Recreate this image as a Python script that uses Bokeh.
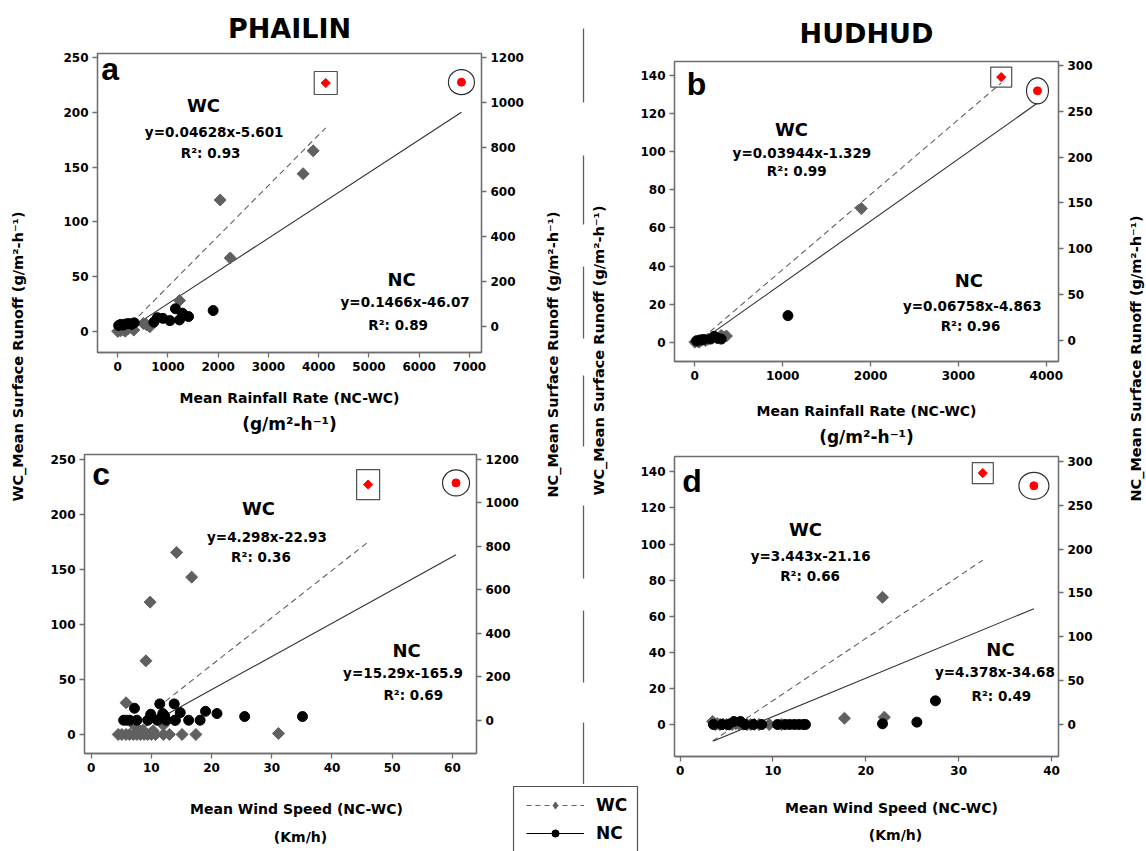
import math
from bokeh.plotting import figure
from bokeh.layouts import row, column
from bokeh.models import Range1d, LinearAxis, FixedTicker, Legend, LegendItem, Title
from bokeh.core.properties import value
from bokeh.embed import file_html
from bokeh.resources import INLINE

W, H = 1146, 851
FONT = "DejaVu Sans"
WC_COLOR = "#606060"
NC_COLOR = "#000000"
PEAK_COLOR = "#ff0000"
AXIS_COLOR = "#6e6e6e"

# ---------------- PHAILIN : mean rainfall rate (a) ----------------
a_wc_x = [0, 30, 60, 90, 120, 150, 200, 320, 510, 570, 640, 1230, 2040, 2240, 3690, 3890]
a_wc_y = [0, 1, 0.5, 2, 1, 0, 2, 1, 7, 6, 4, 28, 120, 67, 144, 165]
a_nc_x = [20, 60, 110, 160, 220, 280, 330, 720, 790, 900, 1040, 1150, 1230, 1290, 1410, 1900]
a_nc_y = [3, 8, 5, 10, 12, 8, 15, 18, 38, 35, 25, 78, 28, 58, 43, 70]
a_wc_peak = (4140, 227)
a_nc_peak = (6840, 1091)
a_wc_fit = (0.04628, -5.601, 0.93)
a_nc_fit = (0.1466, -46.07, 0.89)

# ---------------- HUDHUD : mean rainfall rate (b) ----------------
b_wc_x = [0, 10, 30, 50, 80, 120, 150, 250, 300, 330, 360, 1895]
b_wc_y = [0, 0.3, 0.5, 0, 1, 0.8, 1.5, 2.2, 3.5, 2.5, 3.2, 70.2]
b_nc_x = [20, 60, 100, 180, 220, 260, 300, 1060]
b_nc_y = [0, 1, 1.5, 2, 5, 3, 2, 27.5]
b_wc_peak = (3487, 139.3)
b_nc_peak = (3900, 272)
b_wc_fit = (0.03944, -1.329, 0.99)
b_nc_fit = (0.06758, -4.863, 0.96)

# ---------------- PHAILIN : mean wind speed (c) ----------------
c_wc_x = [5.8, 9.1, 9.8, 14.2, 16.7, 31.1, 12.0, 7.3, 8.6, 10.3,
          4.5, 5.1, 5.8, 6.4, 7.0, 7.6, 8.2, 8.8, 9.4, 10.0, 10.7, 12.0, 13.0, 15.1, 17.4]
c_wc_y = [28.8, 66.9, 120.2, 165.3, 142.9, 0.9, 8.5, 7.6, 3.9, 3.3,
          0, 0, 0, 0, 0, 0, 0, 0, 0, 0, 0, 0, 0, 0, 0]
c_nc_x = [5.4, 5.9, 6.4, 7.6, 9.4, 11.0, 12.5, 13.9, 16.2, 18.1,
          7.2, 9.9, 11.4, 11.9, 13.8, 14.8, 14.0, 19.0, 20.9, 25.5, 35.1, 11.6, 12.2]
c_nc_y = [0, 0, 0, 0, 0, 0, 0, 0, 0, 0,
          55, 27.6, 75, 30.7, 75, 35, 0, 41, 30.7, 16.9, 16.9, 10, 20]
c_wc_peak = (46.0, 227)
c_nc_peak = (60.6, 1091)
c_wc_fit = (4.298, -22.93, 0.36)
c_nc_fit = (15.29, -165.9, 0.69)

# ---------------- HUDHUD : mean wind speed (d) ----------------
d_wc_x = [3.5, 3.8, 4.0, 4.3, 4.6, 5.0, 5.3, 5.6, 6.0, 6.4, 6.8, 7.2, 7.6, 8.0, 8.5,
          9.6, 10.9, 17.7, 21.8, 22.0]
d_wc_y = [1.7, 0, 0.5, 0, 0.3, 0, 0.2, 0, 0.4, 0, 0.2, 0, 0, 0.1, 0,
          0, 0, 3.5, 70.5, 4.1]
d_nc_x = [3.6, 4.5, 5.2, 5.8, 6.5, 7.0, 7.9, 8.8, 10.5, 11.3, 11.8, 12.3, 12.8, 13.3, 13.5,
          21.8, 25.5, 27.5]
d_nc_y = [0, 0, 0, 3.4, 3.4, 0, 0, 0, 0, 0, 0, 0, 0, 0, 0, 0.8, 2.7, 27]
d_wc_peak = (32.6, 139.3)
d_nc_peak = (38.1, 272.3)
d_wc_fit = (3.443, -21.16, 0.66)
d_nc_fit = (4.378, -34.68, 0.49)

# tick values
rain_a_ticks = [0, 1000, 2000, 3000, 4000, 5000, 6000, 7000]
rain_b_ticks = [0, 1000, 2000, 3000, 4000]
wind_c_ticks = [0, 10, 20, 30, 40, 50, 60]
wind_d_ticks = [0, 10, 20, 30, 40]
wc_phailin_ticks = [0, 50, 100, 150, 200, 250]
nc_phailin_ticks = [0, 200, 400, 600, 800, 1000, 1200]
wc_hudhud_ticks = [0, 20, 40, 60, 80, 100, 120, 140]
nc_hudhud_ticks = [0, 50, 100, 150, 200, 250, 300]

RAIN_UNIT = "(g/m\u00b2-h\u207b\u00b9)"
YLAB_WC = "WC_Mean Surface Runoff " + RAIN_UNIT
YLAB_NC = "NC_Mean Surface Runoff " + RAIN_UNIT


def fmt_eq(fit):
    slope, icpt, r2 = fit
    sign = "-" if icpt < 0 else "+"
    return f"y={slope:g}x{sign}{abs(icpt):g}", f"R\u00b2: {r2:.2f}"


def style_axis(ax, ticks):
    ax.ticker = FixedTicker(ticks=ticks)
    ax.axis_line_color = AXIS_COLOR
    ax.axis_line_width = 1.3
    ax.major_tick_line_color = AXIS_COLOR
    ax.major_tick_line_width = 1.3
    ax.major_tick_out = 5
    ax.major_tick_in = 0
    ax.minor_tick_line_color = None
    ax.major_label_text_font = FONT
    ax.major_label_text_font_style = "bold"
    ax.major_label_text_font_size = "12px"
    ax.major_label_text_color = "black"
    ax.major_label_standoff = 4


def make_panel(region, frame, xr, ylr, yrr, xt, ylt, yrt,
               wc_x, wc_y, nc_x, nc_y, wc_peak, nc_peak, wc_fit, nc_fit,
               letter, letter_xy, wc_xy, nc_xy, box_wh, ring_wh):
    """region / frame are (left, top, right, bottom) in page pixels."""
    rx0, ry0, rx1, ry1 = region
    left, top, right, bottom = frame
    p = figure(width=rx1 - rx0, height=ry1 - ry0, output_backend="svg",
               toolbar_location=None, frame_align=False,
               x_range=Range1d(*xr), y_range=Range1d(*ylr),
               min_border_left=left - rx0, min_border_right=rx1 - right,
               min_border_top=top - ry0, min_border_bottom=ry1 - bottom,
               background_fill_color="white", border_fill_color="white",
               outline_line_color=AXIS_COLOR, outline_line_width=1.3)
    p.xgrid.visible = False
    p.ygrid.visible = False
    p.extra_y_ranges = {"nc": Range1d(*yrr)}
    p.add_layout(LinearAxis(y_range_name="nc"), "right")
    style_axis(p.xaxis[0], xt)
    style_axis(p.yaxis[0], ylt)
    style_axis(p.yaxis[1], yrt)

    # regression lines over the x-span of each series
    wx = wc_x + [wc_peak[0]]
    nx = nc_x + [nc_peak[0]]
    wl = [min(wx), max(wx)]
    nl = [min(nx), max(nx)]
    p.line(wl, [wc_fit[0] * v + wc_fit[1] for v in wl],
           line_color=WC_COLOR, line_dash="6 4", line_width=1.1)
    p.line(nl, [nc_fit[0] * v + nc_fit[1] for v in nl], y_range_name="nc",
           line_color="#303030", line_width=1.1)

    p.scatter(wc_x, wc_y, marker="square", angle=math.pi / 4, size=8.5,
              fill_color=WC_COLOR, line_color=WC_COLOR)
    p.scatter(nc_x, nc_y, marker="circle", size=10, y_range_name="nc",
              fill_color=NC_COLOR, line_color=NC_COLOR)

    # highlighted peaks
    p.rect([wc_peak[0]], [wc_peak[1]], width=box_wh[0], height=box_wh[1],
           width_units="screen", height_units="screen",
           fill_color=None, line_color="#505050", line_width=1.2)
    p.scatter([wc_peak[0]], [wc_peak[1]], marker="square", angle=math.pi / 4, size=6.5,
              fill_color=PEAK_COLOR, line_color=PEAK_COLOR)
    p.ellipse([nc_peak[0]], [nc_peak[1]], width=ring_wh[0], height=ring_wh[1],
              width_units="screen", height_units="screen", y_range_name="nc",
              fill_color=None, line_color="#303030", line_width=1.2)
    p.scatter([nc_peak[0]], [nc_peak[1]], marker="circle", size=8, y_range_name="nc",
              fill_color=PEAK_COLOR, line_color=PEAK_COLOR)

    # panel letter and fit annotations
    p.text([letter_xy[0]], [letter_xy[1]], text=[letter], text_font=value("Liberation Sans"),
           text_font_style="bold", text_font_size="32px", text_align="center",
           text_baseline="middle", text_color="black")
    for (xy, name, fit) in ((wc_xy, "WC", wc_fit), (nc_xy, "NC", nc_fit)):
        eq, r2 = fmt_eq(fit)
        p.text([xy[0][0]], [xy[0][1]], text=[name], text_font=value(FONT),
               text_font_style="bold", text_font_size="18px", text_align="center",
               text_baseline="middle", text_color="black")
        p.text([xy[1][0], xy[2][0]], [xy[1][1], xy[2][1]], text=[eq, r2],
               text_font=value(FONT), text_font_style="bold", text_font_size="13.5px",
               text_align="center", text_baseline="middle", text_color="black")
    return p


def add_title(p, text, offset, standoff):
    p.title = Title(text=text, align="center", offset=offset, standoff=standoff,
                    text_font=FONT, text_font_style="bold", text_font_size="27px",
                    text_color="black")


def add_xlabels(p, line1, line2, standoff, offset2, standoff2):
    ax = p.xaxis[0]
    ax.axis_label = line1
    ax.axis_label_text_font = FONT
    ax.axis_label_text_font_style = "bold"
    ax.axis_label_text_font_size = "14px"
    ax.axis_label_text_color = "black"
    ax.axis_label_standoff = standoff
    p.add_layout(Title(text=line2, align="center", offset=offset2, standoff=standoff2,
                       text_font=FONT, text_font_style="bold", text_font_size="17px",
                       text_color="black"), "below")


# page layout (left, top, right, bottom) in page pixels
COL_A = (36, 532)
MID = (532, 634)
COL_B = (634, 1096)
ROWS_A = (0, 440, 784)   # top / split / bottom of the PHAILIN column
ROWS_B = (0, 452, 784)   # top / split / bottom of the HUDHUD column

pa = make_panel((COL_A[0], ROWS_A[0], COL_A[1], ROWS_A[1]), (97, 53, 481, 352),
                (-401, 7239), (-19.5, 254), (-117.6, 1219),
                rain_a_ticks, wc_phailin_ticks, nc_phailin_ticks,
                a_wc_x, a_wc_y, a_nc_x, a_nc_y, a_wc_peak, a_nc_peak, a_wc_fit, a_nc_fit,
                "a", (-150, 240),
                ((1709, 206), (1920, 182), (1850, 163)),
                ((5650, 47), (5720, 26.5), (5580, 6)),
                (23, 23), (26, 25))
add_title(pa, "PHAILIN", -17, 19)
add_xlabels(pa, "Mean Rainfall Rate (NC-WC)", RAIN_UNIT, 16, -17, 6)

pb = make_panel((COL_B[0], ROWS_B[0], COL_B[1], ROWS_B[1]), (674, 61, 1058, 361),
                (-231, 4139), (-10.2, 147.5), (-22.4, 303.9),
                rain_b_ticks, wc_hudhud_ticks, nc_hudhud_ticks,
                b_wc_x, b_wc_y, b_nc_x, b_nc_y, b_wc_peak, b_nc_peak, b_wc_fit, b_nc_fit,
                "b", (20, 135.6),
                ((1100, 112), (1219, 99.5), (1160, 90)),
                ((3118, 32.6), (3158, 19.2), (3138, 8.2)),
                (21, 20), (22, 26))
add_title(pb, "HUDHUD", 4, 26)
add_xlabels(pb, "Mean Rainfall Rate (NC-WC)", RAIN_UNIT, 20, 10, 6)

pc = make_panel((COL_A[0], ROWS_A[1], COL_A[1], ROWS_A[2]), (84, 454, 476, 753),
                (-1.1, 64), (-17.3, 254.3), (-153, 1221.6),
                wind_c_ticks, wc_phailin_ticks, nc_phailin_ticks,
                c_wc_x, c_wc_y, c_nc_x, c_nc_y, c_wc_peak, c_nc_peak, c_wc_fit, c_nc_fit,
                "c", (1.65, 237),
                ((27.8, 205), (29.2, 179.5), (28.2, 161.3)),
                ((52.4, 76), (51.8, 55.4), (53.5, 35.7)),
                (23, 30), (27, 26))

pd = make_panel((COL_B[0], ROWS_B[1], COL_B[1], ROWS_B[2]), (674, 456, 1058, 756),
                (-0.6, 40.75), (-17.7, 148.5), (-36.5, 305.7),
                wind_d_ticks, wc_hudhud_ticks, nc_hudhud_ticks,
                d_wc_x, d_wc_y, d_nc_x, d_nc_y, d_wc_peak, d_nc_peak, d_wc_fit, d_nc_fit,
                "d", (1.3, 135),
                ((13.5, 108.3), (14.06, 93.5), (14.0, 82.1)),
                ((34.5, 41.5), (33.9, 29), (34.6, 16)),
                (21, 21), (30, 27))


# ---------------- text strips around the panels ----------------
def strip(x0, y0, x1, y1):
    f = figure(width=x1 - x0, height=y1 - y0, output_backend="svg", toolbar_location=None,
               frame_align=False,
               x_range=Range1d(x0, x1), y_range=Range1d(H - y1, H - y0),
               x_axis_type=None, y_axis_type=None, min_border=0,
               outline_line_color=None, background_fill_color="white",
               border_fill_color="white")
    return f


def put_text(f, x, y, text, size, angle=0.0):
    f.text([x], [H - y], text=[text], angle=angle, text_font=value(FONT),
           text_font_style="bold", text_font_size=size, text_align="center",
           text_baseline="middle", text_color="black")


YLAB_SIZE = "14.5px"
s_left = strip(0, 0, COL_A[0], H)
put_text(s_left, 17, 356, YLAB_WC, YLAB_SIZE, math.pi / 2)

s_right = strip(COL_B[1], 0, W, H)
put_text(s_right, 1135, 358, YLAB_NC, YLAB_SIZE, math.pi / 2)

s_mid = strip(MID[0], 0, MID[1], ROWS_A[2])
put_text(s_mid, 552, 354, YLAB_NC, YLAB_SIZE, math.pi / 2)
put_text(s_mid, 598, 350, YLAB_WC, YLAB_SIZE, math.pi / 2)
# broken divider between the two cyclones
DIV_TOP = [28, 155, 266, 375, 505, 610, 722]
DIV_BOT = [102, 224, 338, 446, 578, 682, 784]
s_mid.segment(x0=[583] * len(DIV_TOP), y0=[H - v for v in DIV_TOP],
              x1=[583] * len(DIV_BOT), y1=[H - v for v in DIV_BOT],
              line_color="#606060", line_width=1.3)

LEG_X = (512, 640)
s_low_a = strip(COL_A[0], ROWS_A[2], LEG_X[0], H)
put_text(s_low_a, 296, 808, "Mean Wind Speed (NC-WC)", "14px")
put_text(s_low_a, 300, 836, "(Km/h)", "14px")

s_low_b = strip(LEG_X[1], ROWS_A[2], COL_B[1], H)
put_text(s_low_b, 891, 807, "Mean Wind Speed (NC-WC)", "14px")
put_text(s_low_b, 895, 834, "(Km/h)", "14px")

s_leg = strip(LEG_X[0], ROWS_A[2], LEG_X[1], H)
# open-bottomed legend frame
s_leg.line([513, 513, 637, 637], [-10, H - 786, H - 786, -10],
           line_color="#505050", line_width=1.2)
# legend sample renderers (single point kept outside the visible area)
OFF = [-500]
leg_wl = s_leg.line(x=OFF, y=OFF, line_color=WC_COLOR, line_dash="5 4", line_width=1.2)
leg_wm = s_leg.scatter(x=OFF, y=OFF, marker="diamond", size=11,
                       fill_color=WC_COLOR, line_color=WC_COLOR)
leg_nl = s_leg.line(x=OFF, y=OFF, line_color="black", line_width=1.2)
leg_nm = s_leg.scatter(x=OFF, y=OFF, marker="circle", size=7, fill_color="black",
                       line_color="black")
legend = Legend(items=[LegendItem(label="WC", renderers=[leg_wl, leg_wm]),
                       LegendItem(label="NC", renderers=[leg_nl, leg_nm])],
                location=(14, 8), orientation="vertical",
                glyph_width=58, glyph_height=18, label_height=18, label_standoff=12,
                spacing=8, padding=9, margin=0,
                label_text_font=FONT, label_text_font_style="bold",
                label_text_font_size="17px", label_text_color="black",
                border_line_color=None, background_fill_alpha=0.0)
s_leg.add_layout(legend)

upper = row(column(pa, pc), s_mid, column(pb, pd))
lower = row(s_low_a, s_leg, s_low_b)
page = row(s_left, column(upper, lower), s_right)

with open("out.html", "w") as f:
    f.write(file_html(page, INLINE))
